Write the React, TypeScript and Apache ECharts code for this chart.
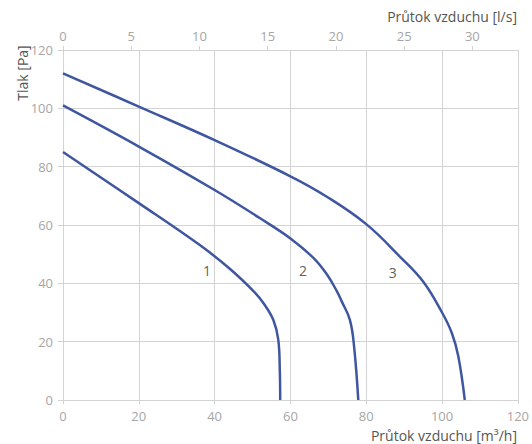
import React, { useEffect, useRef } from "react";
import * as echarts from "echarts";

const curve1: [number, number][] = [
  [0, 85], [20, 67.5], [36, 53.2], [44, 45], [50.5, 37], [53, 33], [55.5, 27.4],
  [56.8, 20.6], [57.2, 10], [57.3, 0],
];
const curve2: [number, number][] = [
  [0, 101], [20, 86.9], [40, 72], [52, 62.3], [60, 55.4], [66, 48.8], [69.6, 43.1],
  [72.2, 37.4], [73.5, 33.9], [75.7, 27.4], [76.8, 18.3], [77.9, 0],
];
const curve3: [number, number][] = [
  [0, 112], [20, 100.6], [40, 89.1], [60, 76.7], [69.6, 69.7], [80, 60.3], [89, 49],
  [95, 40.6], [100, 30], [102.6, 22.9], [104.3, 14.9], [106, 0],
];
const curveLabels = [
  { name: "1", value: [38, 44.6] },
  { name: "2", value: [63.3, 44.9] },
  { name: "3", value: [87, 44.2] },
];
const flowMax = 120; // m³/h
const lsPerM3h = 1 / 3.6;
const yMax = 120;

const FONT = "'Open Sans', 'Noto Sans', sans-serif";
const LINE = "#3f56a0";
const GRID = "#d3d3d3";
const TICKTXT = "#a6a6a6";
const NAMETXT = "#555555";

export default function App() {
  const ref = useRef<HTMLDivElement>(null);
  useEffect(() => {
    document.body.style.margin = "0";
    const chart = echarts.init(ref.current!, null, { renderer: "svg" });
    chart.setOption({
      animation: false,
      textStyle: { fontFamily: FONT },
      grid: { left: 63, right: 14, top: 50, bottom: 44, containLabel: false },
      xAxis: [
        {
          type: "value",
          position: "bottom",
          min: 0,
          max: flowMax,
          interval: 20,
          axisLine: { show: true, lineStyle: { color: GRID } },
          axisTick: { show: true, length: 4, lineStyle: { color: GRID } },
          axisLabel: { color: TICKTXT, fontSize: 13, margin: 9, fontFamily: FONT },
          splitLine: { show: true, lineStyle: { color: GRID } },
        },
        {
          type: "value",
          position: "top",
          min: 0,
          max: flowMax * lsPerM3h,
          interval: 5,
          axisLine: { show: true, lineStyle: { color: GRID } },
          axisTick: { show: true, length: 4, lineStyle: { color: GRID } },
          axisLabel: { color: TICKTXT, fontSize: 13, margin: 8, showMaxLabel: false, fontFamily: FONT },
          splitLine: { show: false },
        },
      ],
      yAxis: {
        type: "value",
        min: 0,
        max: yMax,
        interval: 20,
        axisLine: { show: true, lineStyle: { color: GRID } },
        axisTick: { show: true, length: 5, lineStyle: { color: GRID } },
        axisLabel: { color: TICKTXT, fontSize: 13, margin: 10, fontFamily: FONT },
        splitLine: { show: true, lineStyle: { color: GRID } },
      },
      graphic: [
        {
          type: "text",
          right: 15,
          top: 428,
          style: { text: "Průtok vzduchu [m³/h]", fill: NAMETXT, fontSize: 14, fontFamily: FONT },
        },
        {
          type: "text",
          right: 15,
          top: 9,
          style: { text: "Průtok vzduchu [l/s]", fill: NAMETXT, fontSize: 14, fontFamily: FONT },
        },
        {
          type: "text",
          x: 22,
          y: 73,
          rotation: Math.PI / 2,
          style: {
            text: "Tlak [Pa]",
            fill: NAMETXT,
            fontSize: 14,
            fontFamily: FONT,
            align: "center",
            verticalAlign: "middle",
          },
        },
      ],
      series: [
        ...[curve1, curve2, curve3].map((d) => ({
          type: "line",
          xAxisIndex: 0,
          yAxisIndex: 0,
          data: d,
          smooth: 0.4,
          symbol: "none",
          lineStyle: { color: LINE, width: 2.5 },
        })),
        {
          type: "scatter",
          xAxisIndex: 0,
          yAxisIndex: 0,
          symbolSize: 0,
          itemStyle: { color: "#333333" },
          data: curveLabels,
          label: {
            show: true,
            position: "top",
            distance: 0,
            offset: [0, 8],
            formatter: "{b}",
            color: "#333333",
            fontSize: 14,
            fontFamily: FONT,
          },
        },
      ],
    });
    return () => chart.dispose();
  }, []);
  return <div ref={ref} style={{ width: 532, height: 444 }} />;
}
